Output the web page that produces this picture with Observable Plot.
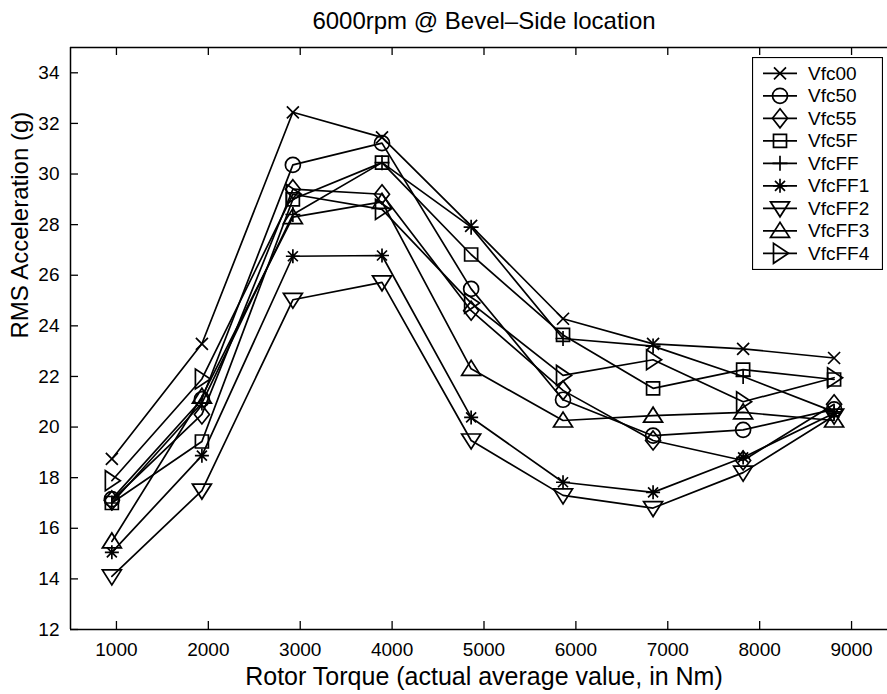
<!DOCTYPE html>
<html>
<head>
<meta charset="utf-8">
<script src="https://cdn.jsdelivr.net/npm/d3@7"></script>
<script src="https://cdn.jsdelivr.net/npm/@observablehq/plot@0.6"></script>
<style>
  html, body { margin: 0; padding: 0; background: white; overflow: hidden; }
  #wrap { position: relative; width: 887px; height: 694px; overflow: hidden; font-family: "Liberation Sans", Arial, sans-serif; }
  #chart { width: 897px; height: 694px; }
  #chart svg { display: block; max-width: none !important; }
  #legend { position: absolute; left: 752px; top: 57px; }
</style>
</head>
<body>
<div id="wrap"><div id="chart"></div><div id="legend"></div></div>
<script>
// ---- data ----
const title = "6000rpm @ Bevel\u2013Side location";
const xLabel = "Rotor Torque (actual average value, in Nm)";
const yLabel = "RMS Acceleration (g)";
const torque = [950, 1930, 2920, 3890, 4860, 5860, 6840, 7820, 8810];
const xTicks = [1000, 2000, 3000, 4000, 5000, 6000, 7000, 8000, 9000];
const yTicks = [12, 14, 16, 18, 20, 22, 24, 26, 28, 30, 32, 34];
const seriesNames = ["Vfc00", "Vfc50", "Vfc55", "Vfc5F", "VfcFF", "VfcFF1", "VfcFF2", "VfcFF3", "VfcFF4"];
const vfc00  = [18.74, 23.29, 32.44, 31.45, 27.95, 24.28, 23.29, 23.09, 22.73];
const vfc50  = [17.15, 21.10, 30.36, 31.22, 25.46, 21.08, 19.66, 19.89, 20.70];
const vfc55  = [17.10, 20.50, 29.40, 29.20, 24.60, 21.45, 19.47, 18.68, 20.90];
const vfc5F  = [17.00, 19.43, 29.00, 30.45, 26.82, 23.64, 21.53, 22.27, 21.88];
const vfcFF  = [17.00, 20.95, 28.40, 30.45, 27.90, 23.50, 23.20, 22.00, 20.60];
const vfcFF1 = [15.05, 18.87, 26.75, 26.78, 20.38, 17.82, 17.42, 18.80, 20.55];
const vfcFF2 = [14.10, 17.49, 25.03, 25.72, 19.47, 17.30, 16.80, 18.20, 20.45];
const vfcFF3 = [15.48, 21.20, 28.30, 28.90, 22.30, 20.26, 20.45, 20.58, 20.26];
const vfcFF4 = [17.88, 21.90, 29.20, 28.60, 24.90, 22.04, 22.66, 21.00, 21.95];
const seriesValues = [vfc00, vfc50, vfc55, vfc5F, vfcFF, vfcFF1, vfcFF2, vfcFF3, vfcFF4];

// ---- MATLAB-like marker shapes ----
const symbols = {
  times:   {draw(c){const s=6; c.moveTo(-s,-s);c.lineTo(s,s);c.moveTo(s,-s);c.lineTo(-s,s);}},
  circle:  {draw(c){const r=7.5; c.moveTo(r,0); c.arc(0,0,r,0,2*Math.PI);}},
  diamond: {draw(c){c.moveTo(0,-9.5);c.lineTo(7.5,0);c.lineTo(0,9.5);c.lineTo(-7.5,0);c.closePath();}},
  square:  {draw(c){const s=6.5; c.rect(-s,-s,2*s,2*s);}},
  plus:    {draw(c){const s=7.5; c.moveTo(-s,0);c.lineTo(s,0);c.moveTo(0,-s);c.lineTo(0,s);}},
  asterisk:{draw(c){const s=7,t=5; c.moveTo(-s,0);c.lineTo(s,0);c.moveTo(0,-s);c.lineTo(0,s);
                    c.moveTo(-t,-t);c.lineTo(t,t);c.moveTo(t,-t);c.lineTo(-t,t);}},
  triDown: {draw(c){c.moveTo(-9.5,-6.5);c.lineTo(9.5,-6.5);c.lineTo(0,8.5);c.closePath();}},
  triUp:   {draw(c){c.moveTo(-9.5,6.5);c.lineTo(9.5,6.5);c.lineTo(0,-8.5);c.closePath();}},
  triRight:{draw(c){c.moveTo(-6.5,-10);c.lineTo(-6.5,10);c.lineTo(8.5,0);c.closePath();}}
};
const seriesSymbols = [symbols.times, symbols.circle, symbols.diamond, symbols.square, symbols.plus,
                       symbols.asterisk, symbols.triDown, symbols.triUp, symbols.triRight];

const rows = seriesNames.flatMap((name, i) => torque.map((t, j) => ({series: name, torque: t, accel: seriesValues[i][j]})));

// full MATLAB axes run to 9500; the page (887 px) crops its right end like the reference
const W = 897, H = 694, mL = 70, mR = 0, mT = 47, mB = 65;
const innerW = W - mL - mR, innerH = H - mT - mB;
const font = "Liberation Sans, Arial, Helvetica, sans-serif";

const chart = Plot.plot({
  width: W, height: H,
  marginLeft: mL, marginRight: mR, marginTop: mT, marginBottom: mB,
  x: {domain: [500, 9500], axis: null},
  y: {domain: [12, 35], axis: null},
  style: {fontFamily: font, fontSize: "19px", background: "white", color: "black", maxWidth: "none"},
  marks: [
    // frame (left, top, bottom)
    Plot.ruleX([500], {stroke: "black", strokeWidth: 1.5}),
    Plot.ruleY([12, 35], {stroke: "black", strokeWidth: 1.5}),
    // inward ticks
    Plot.tickX(xTicks, {x: d => d, insetTop: innerH - 8, stroke: "black", strokeWidth: 1.3}),
    Plot.tickX(xTicks, {x: d => d, insetBottom: innerH - 8, stroke: "black", strokeWidth: 1.3}),
    Plot.tickY(yTicks, {y: d => d, insetRight: innerW - 8, stroke: "black", strokeWidth: 1.3}),
    // tick labels
    Plot.text(xTicks, {x: d => d, frameAnchor: "bottom", lineAnchor: "middle", dy: 20, text: d => String(d), fontSize: 19}),
    Plot.text(yTicks, {y: d => d, frameAnchor: "left", dx: -11, textAnchor: "end", text: d => String(d), fontSize: 19}),
    // data
    Plot.line(rows, {x: "torque", y: "accel", z: "series", stroke: "black", strokeWidth: 1.7}),
    ...seriesNames.map((name, i) =>
      Plot.dot(rows.filter(d => d.series === name), {x: "torque", y: "accel", symbol: seriesSymbols[i], r: 5, fill: "none", stroke: "black", strokeWidth: 1.7})),
    // titles
    Plot.text([title], {frameAnchor: "top", lineAnchor: "middle", dy: -26.5, fontSize: 24}),
    Plot.text([xLabel], {frameAnchor: "bottom", lineAnchor: "middle", dy: 47.5, fontSize: 25}),
    Plot.text([yLabel], {frameAnchor: "left", dx: -50, rotate: -90, fontSize: 24})
  ]
});
document.getElementById("chart").appendChild(chart);

// ---- legend ----
const LW = 131, LH = 213, rowH = 22.5, row0 = 16.3;
const lsvg = d3.select("#legend").append("svg").attr("width", LW).attr("height", LH)
  .style("display", "block").style("font-family", font).style("font-size", "19px");
lsvg.append("rect").attr("x", 0.5).attr("y", 0.5).attr("width", LW - 1).attr("height", LH - 1)
  .attr("fill", "white").attr("stroke", "black").attr("stroke-width", 1.2);
seriesNames.forEach((name, i) => {
  const g = lsvg.append("g").attr("transform", `translate(0,${row0 + i * rowH})`);
  g.append("line").attr("x1", 11).attr("x2", 45).attr("y1", 0).attr("y2", 0).attr("stroke", "black").attr("stroke-width", 1.7);
  g.append("path").attr("transform", "translate(28,0)").attr("d", d3.symbol().type(seriesSymbols[i])())
    .attr("fill", "none").attr("stroke", "black").attr("stroke-width", 1.7);
  g.append("text").attr("x", 56).attr("y", 0).attr("dy", "0.35em").text(name);
});
</script>
</body>
</html>
